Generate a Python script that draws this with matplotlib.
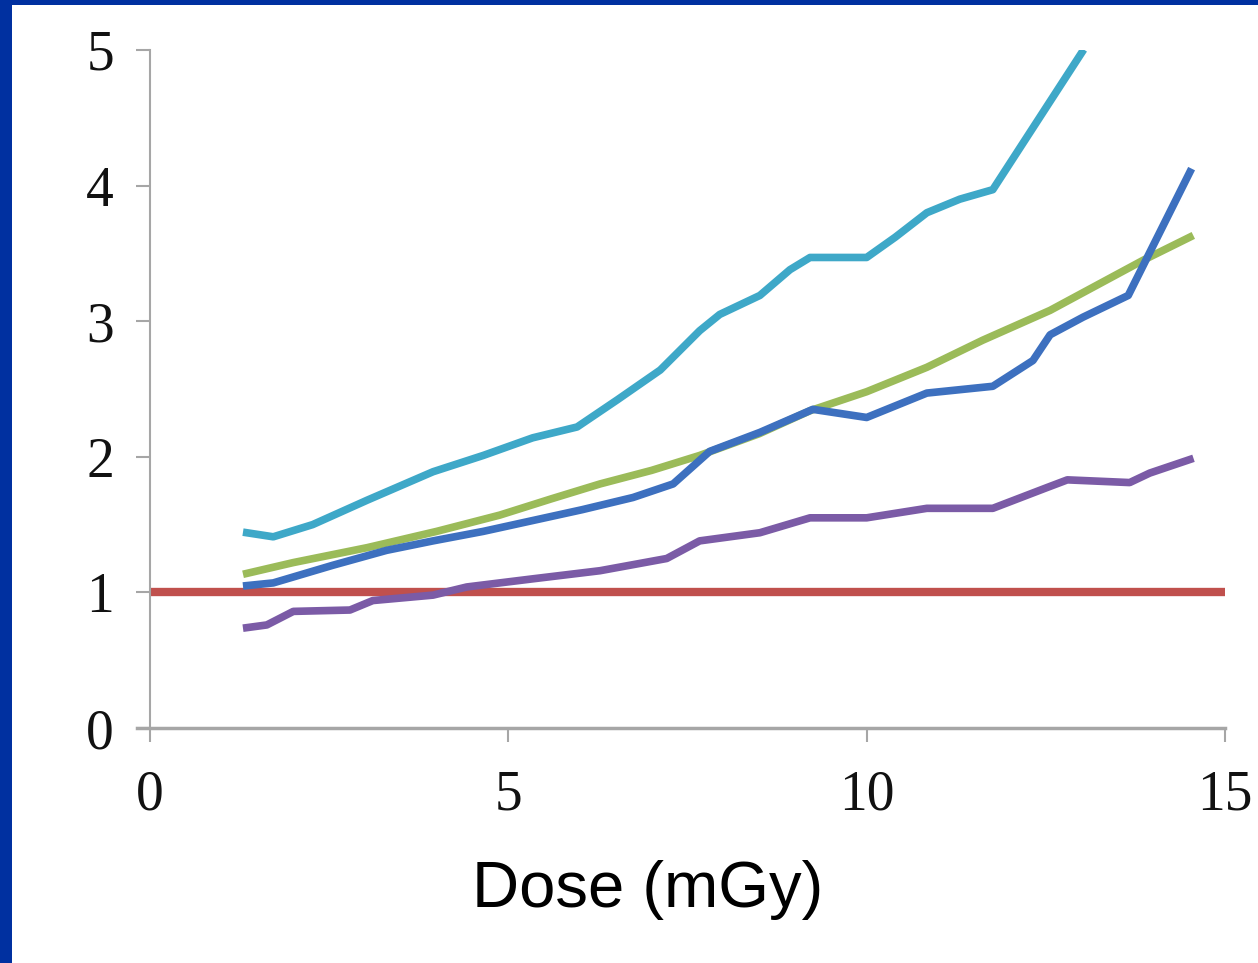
import matplotlib
matplotlib.use("Agg")
import matplotlib.pyplot as plt
from matplotlib.patches import Rectangle

# dose (mGy) vs ratio, one curve per series
cyan_x = [1.35, 1.72, 2.27, 3.03, 3.95, 4.65, 5.34, 5.96, 6.52, 7.12, 7.67, 7.95,
          8.51, 8.93, 9.21, 10.0, 10.4, 10.84, 11.3, 11.76, 13.0]
cyan_y = [1.44, 1.41, 1.50, 1.68, 1.89, 2.01, 2.14, 2.22, 2.42, 2.64, 2.93, 3.05,
          3.19, 3.38, 3.47, 3.47, 3.62, 3.80, 3.90, 3.97, 4.98]

blue_x = [1.35, 1.72, 2.55, 3.3, 3.95, 4.65, 5.34, 6.03, 6.74, 7.3, 7.81, 8.51,
          9.25, 10.0, 10.84, 11.76, 12.32, 12.56, 13.02, 13.65, 14.51]
blue_y = [1.05, 1.07, 1.20, 1.31, 1.38, 1.45, 1.53, 1.61, 1.70, 1.80, 2.04, 2.18,
          2.35, 2.29, 2.47, 2.52, 2.71, 2.90, 3.03, 3.19, 4.10]

green_x = [1.35, 2.0, 3.03, 4.0, 4.88, 5.6, 6.28, 7.0, 7.67, 8.5, 9.21, 10.0,
           10.84, 11.62, 12.56, 13.86, 14.51]
green_y = [1.14, 1.22, 1.33, 1.45, 1.57, 1.69, 1.80, 1.90, 2.01, 2.17, 2.34, 2.48,
           2.66, 2.86, 3.08, 3.45, 3.62]

purple_x = [1.35, 1.63, 2.0, 2.79, 3.11, 3.95, 4.42, 5.34, 6.28, 7.21, 7.67, 8.51,
            9.21, 10.0, 10.84, 11.76, 12.5, 12.8, 13.67, 13.95, 14.51]
purple_y = [0.74, 0.76, 0.86, 0.87, 0.94, 0.98, 1.04, 1.10, 1.16, 1.25, 1.38, 1.44,
            1.55, 1.55, 1.62, 1.62, 1.77, 1.83, 1.81, 1.88, 1.98]

ref_x = [0, 15]
ref_y = [1, 1]

x_ticks = [0, 5, 10, 15]
y_ticks = [0, 1, 2, 3, 4, 5]

fig = plt.figure(figsize=(12.58, 9.63), dpi=100)
fig.patch.set_facecolor("#0030a0")
# white slide area, leaving the blue band on the left and top
fig.patches.append(Rectangle((12 / 1258, 0), 1, 1 - 5 / 963, transform=fig.transFigure,
                             facecolor="white", edgecolor="none", zorder=-5))

ax = fig.add_axes([150 / 1258, 1 - 728 / 963, 1075 / 1258, 678 / 963])
ax.set_zorder(1)
ax.set_facecolor("none")

ax.plot(ref_x, ref_y, color="#c0504d", lw=6, solid_capstyle="butt")
ax.plot(purple_x, purple_y, color="#7b5ba6", lw=5.5)
ax.plot(green_x, green_y, color="#9bbb59", lw=5.5)
ax.plot(blue_x, blue_y, color="#3d70bf", lw=5.5)
ax.plot(cyan_x, cyan_y, color="#3ea8c8", lw=5.5)

ax.set_xlim(0, 15)
ax.set_ylim(0, 5)

for s in ["top", "right"]:
    ax.spines[s].set_visible(False)
ax.spines["left"].set_color("#a6a6a6")
ax.spines["left"].set_linewidth(1.5)
ax.spines["bottom"].set_color("#a6a6a6")
ax.spines["bottom"].set_linewidth(2.5)
ax.spines["bottom"].set_bounds(-0.18, 15)

ax.set_xticks(x_ticks)
ax.set_yticks(y_ticks)
ax.tick_params(axis="both", direction="out", color="#a6a6a6", width=1.5,
               labelsize=40, labelcolor="#111111")
ax.tick_params(axis="x", length=10, pad=20)
ax.tick_params(axis="y", length=10, pad=16)
for lbl in ax.get_xticklabels() + ax.get_yticklabels():
    lbl.set_fontfamily("Liberation Serif")

fig.text(648 / 1258, 1 - 907 / 963, "Dose (mGy)", ha="center", va="baseline",
         fontsize=47, family="Liberation Sans", color="black")

fig.savefig("out.png", dpi=100, facecolor=fig.get_facecolor())
